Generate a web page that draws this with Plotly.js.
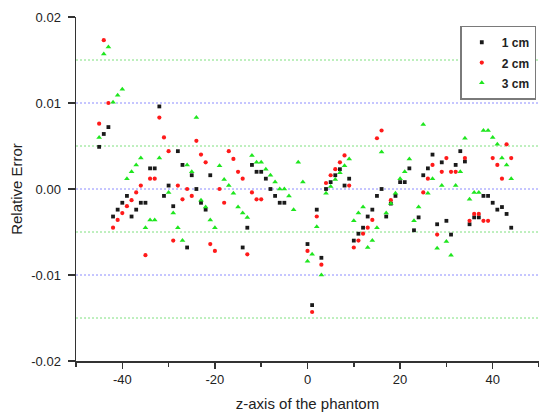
<!DOCTYPE html>
<html>
<head>
<meta charset="utf-8">
<script src="https://cdn.plot.ly/plotly-3.0.1.min.js"></script>
<style>html,body{margin:0;padding:0;background:#fff;}#chart{width:539px;height:412px;}</style>
</head>
<body>
<div id="chart"></div>
<script>
// z positions (cm along the phantom axis)
var zPos = [-45,-44,-43,-42,-41,-40,-39,-38,-37,-36,-35,-34,-33,-32,-31,-30,-29,-28,-27,-26,-25,-24,-23,-22,-21,-20,-19,-18,-17,-16,-15,-14,-13,-12,-11,-10,-9,-8,-7,-6,-5,-4,-3,-2,-1,0,1,2,3,4,5,6,7,8,9,10,11,12,13,14,15,16,17,18,19,20,21,22,23,24,25,26,27,28,29,30,31,32,33,34,35,36,37,38,39,40,41,42,43,44];

var seriesNames = ['1 cm', '2 cm', '3 cm'];

var err1cm = [0.0049,0.0064,0.0072,-0.0032,-0.0024,-0.0016,-0.0008,-0.0032,-0.0024,-0.0016,-0.0016,0.0024,0.0024,0.0096,-0.0008,0.0004,-0.0020,0.0044,0.0028,-0.0068,0.0016,0.0000,-0.0016,-0.0024,0.0016,null,null,null,null,null,null,-0.0068,-0.0045,0.0028,0.0020,0.0020,0.0012,0.0000,-0.0008,-0.0016,-0.0016,null,null,null,null,-0.0064,-0.0135,-0.0024,-0.0080,0.0000,0.0008,0.0016,0.0023,0.0004,0.0012,-0.0060,-0.0052,-0.0045,-0.0032,-0.0024,-0.0008,0.0000,-0.0032,-0.0017,-0.0008,0.0008,0.0008,0.0024,-0.0048,-0.0033,0.0016,0.0024,0.0040,-0.0041,0.0031,-0.0037,-0.0053,0.0028,0.0044,0.0032,-0.0041,-0.0033,-0.0033,-0.0008,-0.0008,-0.0016,-0.0024,-0.0021,-0.0029,-0.0045];

var err2cm = [0.0076,0.0173,0.0100,-0.0045,-0.0036,-0.0028,-0.0020,-0.0013,-0.0004,0.0004,-0.0077,0.0012,0.0012,0.0083,0.0060,0.0044,-0.0060,0.0004,-0.0012,0.0000,-0.0008,0.0056,0.0040,0.0031,-0.0064,-0.0072,0.0000,-0.0016,0.0044,0.0035,0.0020,0.0012,-0.0076,-0.0004,-0.0012,-0.0012,null,null,null,null,null,null,null,null,null,-0.0072,-0.0143,-0.0032,-0.0088,0.0007,0.0016,0.0023,0.0031,0.0039,0.0004,-0.0068,-0.0060,-0.0052,-0.0045,-0.0036,0.0059,0.0068,null,-0.0013,null,null,null,null,null,null,-0.0004,0.0012,0.0028,-0.0053,0.0020,0.0036,0.0020,0.0020,null,0.0036,-0.0037,-0.0029,-0.0029,-0.0037,-0.0037,0.0036,0.0028,0.0012,0.0052,0.0036];

var err3cm = [0.0060,0.0157,0.0165,0.0101,0.0109,0.0116,0.0012,0.0020,0.0028,0.0036,-0.0045,-0.0036,-0.0036,0.0036,null,-0.0004,-0.0028,-0.0045,-0.0060,0.0028,0.0020,0.0083,-0.0013,-0.0021,-0.0036,-0.0045,0.0027,0.0011,0.0004,-0.0005,-0.0021,-0.0028,-0.0033,0.0039,0.0031,0.0031,0.0023,0.0016,0.0008,0.0000,0.0000,-0.0008,-0.0024,0.0031,0.0008,-0.0084,-0.0076,-0.0044,-0.0100,-0.0005,0.0003,0.0011,0.0019,0.0027,0.0035,-0.0037,-0.0028,-0.0021,-0.0068,-0.0060,-0.0045,0.0043,-0.0028,-0.0017,-0.0005,0.0012,0.0020,0.0035,-0.0037,-0.0021,0.0075,-0.0005,0.0012,-0.0069,0.0004,-0.0061,-0.0077,0.0004,0.0020,0.0059,-0.0012,-0.0004,-0.0004,0.0068,0.0068,0.0060,0.0052,0.0036,0.0028,0.0012];

// axis ticks
var xTickVals = [-40, -20, 0, 20, 40];
var xTickText = ['-40', '-20', '0', '20', '40'];
var xMinorVals = [-50, -30, -10, 10, 30, 50];
var yTickVals = [-0.02, -0.01, 0, 0.01, 0.02];
var yTickText = ['-0.02', '-0.01', '0.00', '0.01', '0.02'];
// reference lines
var blueLevels = [-0.01, 0, 0.01];
var greenLevels = [-0.015, -0.005, 0.005, 0.015];

var FONT = 'Liberation Sans, Arial, Helvetica, sans-serif';

function legendName(n) {
  return '<span style="font-size:12px"><b>' + n + '</b></span>';
}

var traces = [
  {x: zPos, y: err1cm, name: legendName(seriesNames[0]), type: 'scatter', mode: 'markers',
   marker: {symbol: 'square', size: 3.8, color: '#1a1a1a'}},
  {x: zPos, y: err2cm, name: legendName(seriesNames[1]), type: 'scatter', mode: 'markers',
   marker: {symbol: 'circle', size: 4.2, color: '#ff1a1a'}},
  {x: zPos, y: err3cm, name: legendName(seriesNames[2]), type: 'scatter', mode: 'markers',
   marker: {symbol: 'triangle-up', size: 5, color: '#1ee61e'}}
];

var shapes = [];
blueLevels.forEach(function (v) {
  shapes.push({type: 'line', xref: 'paper', x0: 0, x1: 1, yref: 'y', y0: v, y1: v, layer: 'below',
    line: {color: '#8c8cff', width: 1, dash: '2px,2px'}});
});
greenLevels.forEach(function (v) {
  shapes.push({type: 'line', xref: 'paper', x0: 0, x1: 1, yref: 'y', y0: v, y1: v, layer: 'below',
    line: {color: '#7ee07e', width: 1, dash: '2px,2px'}});
});

var layout = {
  width: 539, height: 412,
  margin: {l: 76, r: 0, t: 17, b: 51},
  paper_bgcolor: '#fff', plot_bgcolor: '#fff',
  font: {family: FONT, color: '#222', size: 13},
  showlegend: true,
  legend: {
    x: 0.83, y: 0.975, xanchor: 'left', yanchor: 'top',
    bgcolor: '#fff', bordercolor: '#7a7a7a', borderwidth: 1.5,
    font: {family: FONT, size: 13.3, color: '#222'}
  },
  xaxis: {
    range: [-50, 50], showgrid: false, zeroline: false,
    showline: true, linecolor: '#333', linewidth: 1.5,
    tickmode: 'array', tickvals: xTickVals, ticktext: xTickText,
    ticks: 'outside', ticklen: 6, tickwidth: 1.5, tickcolor: '#333',
    minor: {tickmode: 'array', tickvals: xMinorVals, ticks: 'outside', ticklen: 4, tickwidth: 1.5, tickcolor: '#333', showgrid: false},
    tickfont: {size: 13, color: '#222'},
    title: {text: 'z-axis of the phantom', font: {size: 15, color: '#222'}, standoff: 12}
  },
  yaxis: {
    range: [-0.02, 0.02], showgrid: false, zeroline: false,
    showline: true, linecolor: '#333', linewidth: 1.5,
    tickmode: 'array', tickvals: yTickVals, ticktext: yTickText,
    ticks: 'outside', ticklen: 7, tickwidth: 1.5, tickcolor: '#333',
    ticklabelstandoff: 4,
    tickfont: {size: 13, color: '#222'},
    title: {text: 'Relative Error', font: {size: 15, color: '#222'}, standoff: 5}
  },
  shapes: shapes
};

Plotly.newPlot('chart', traces, layout, {displayModeBar: false, staticPlot: true});
</script>
</body>
</html>
